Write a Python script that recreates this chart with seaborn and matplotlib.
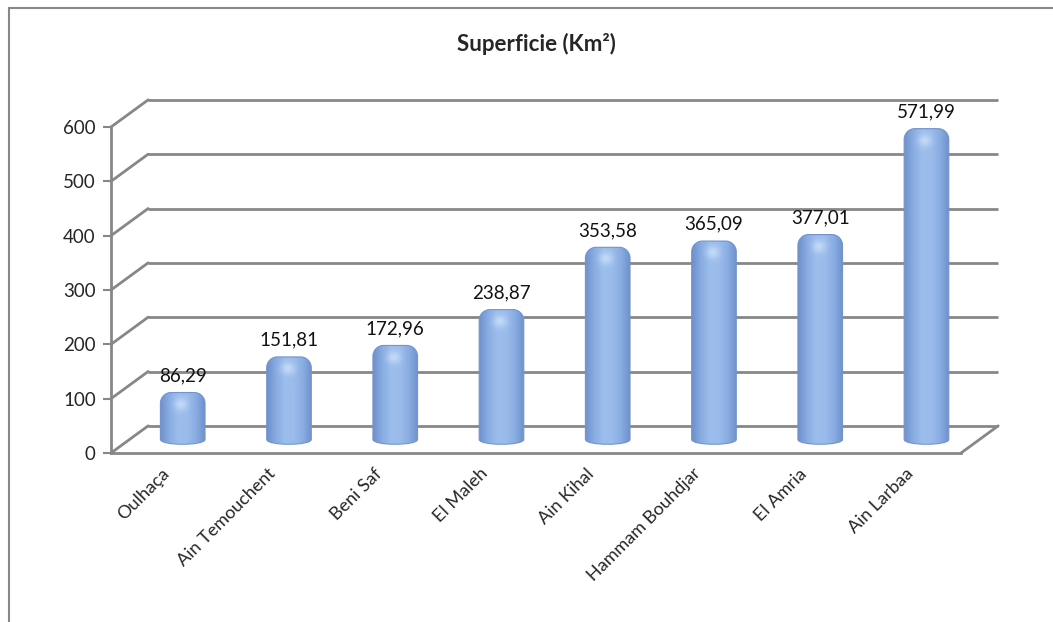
import numpy as np
import seaborn as sns
import matplotlib.pyplot as plt
from matplotlib.path import Path
from matplotlib.patches import PathPatch
from matplotlib.colors import LinearSegmentedColormap, to_rgb
from matplotlib.lines import Line2D
from matplotlib.transforms import ScaledTranslation

# donnees
regions = ['Oulhaça', 'Ain Temouchent', 'Beni Saf', 'El Maleh', 'Ain Kihal',
           'Hammam Bouhdjar', 'El Amria', 'Ain Larbaa']
superficie = [86.29, 151.81, 172.96, 238.87, 353.58, 365.09, 377.01, 571.99]
yticks = [0, 100, 200, 300, 400, 500, 600]
titre = 'Superficie (Km²)'

sns.set_style('white')
plt.rcParams['font.family'] = ['Lato', 'DejaVu Sans']

gris = '#878787'
DX, DY = 0.35, 50   # profondeur du "3D" en unites de donnees

fig = plt.figure(figsize=(10.53, 6.22), dpi=100)
ax = fig.add_axes([111/1053, (622-453)/622, 850/1053, 326/622])
ax.patch.set_alpha(0)

sns.barplot(x=regions, y=superficie, ax=ax, width=0.42, color='#8db3e2')

nx = len(regions)
# mur du fond + mur de gauche + sol
for v in yticks:
    ax.plot([-0.5 + DX, nx - 0.5 + DX], [v + DY, v + DY], color=gris, lw=2,
            clip_on=False, zorder=0, solid_capstyle='butt')
    ax.plot([-0.5, -0.5 + DX], [v, v + DY], color=gris, lw=2, clip_on=False, zorder=0)
ax.plot([nx - 0.5, nx - 0.5 + DX], [0, DY], color=gris, lw=2, clip_on=False, zorder=0)

# barres cylindriques
cmap = LinearSegmentedColormap.from_list(
    'cyl', ['#6f91cd', '#89ace2', '#9cbeec', '#9bbceb', '#8aade2', '#7092ce'])
rx, ry, eb = 0.1, 20, 9
px_per_y = 326 / 600
for p, v in zip(ax.patches, superficie):
    p.set_visible(False)
    w = p.get_width()
    x0 = p.get_x() + DX / 2
    y0 = DY / 2
    h = p.get_height()
    k = eb * 1.33
    verts = [(x0, y0),
             (x0, y0 - k), (x0 + w, y0 - k), (x0 + w, y0),
             (x0 + w, y0 + h - ry),
             (x0 + w, y0 + h - ry * 0.45), (x0 + w - rx * 0.45, y0 + h), (x0 + w - rx, y0 + h),
             (x0 + rx, y0 + h),
             (x0 + rx * 0.45, y0 + h), (x0, y0 + h - ry * 0.45), (x0, y0 + h - ry),
             (x0, y0)]
    codes = [Path.MOVETO,
             Path.CURVE4, Path.CURVE4, Path.CURVE4,
             Path.LINETO,
             Path.CURVE4, Path.CURVE4, Path.CURVE4,
             Path.LINETO,
             Path.CURVE4, Path.CURVE4, Path.CURVE4,
             Path.CLOSEPOLY]
    patch = PathPatch(Path(verts, codes), facecolor='none', edgecolor='#7394cc',
                      lw=0.8, zorder=3)
    ax.add_patch(patch)

    # degrade horizontal + reflet en haut
    ny = int((h + eb) * px_per_y) + 2
    gx = np.linspace(0, 1, 48)
    base = cmap(gx)[:, :3]
    img = np.tile(base, (ny, 1, 1))
    yy = np.arange(ny)[:, None]
    xx = np.arange(48)[None, :]
    hl = np.exp(-(((xx - 22) / 7.0) ** 2 + ((yy - 12) / 6.0) ** 2))
    img = img + (np.array(to_rgb('#d4e6fb')) - img) * hl[:, :, None] * 0.7
    im = ax.imshow(img, extent=[x0, x0 + w, y0 - eb, y0 + h], aspect='auto',
                   zorder=2, interpolation='bilinear')
    im.set_clip_path(patch)

    lab = f'{v:.2f}'.replace('.', ',')
    ax.annotate(lab, xy=(x0 + w / 2, y0 + h), xytext=(0, 6), textcoords='offset points',
                ha='center', va='bottom', fontsize=13.5, color='#111111')

ax.set_xlim(-0.5, nx - 0.5)
ax.set_ylim(0, 600)
ax.set_yticks(yticks)
ax.set_yticklabels([str(t) for t in yticks], fontsize=13.5)
ax.set_xticks(range(nx))
ax.set_xticklabels(regions, rotation=45, ha='right', rotation_mode='anchor', fontsize=13)
ax.set_xticks(np.arange(-0.5, nx, 1), minor=True)
ax.tick_params(axis='x', which='major', length=0, pad=9)
ax.tick_params(axis='x', which='minor', length=6, width=1.5, color=gris, direction='out')
ax.tick_params(axis='y', length=6, width=1.5, color=gris, direction='out', left=True, pad=5)
decal = ScaledTranslation(-3/100, 0, fig.dpi_scale_trans)
for t in ax.get_xticklabels():
    t.set_transform(t.get_transform() + decal)
ax.set_xlabel('')
ax.set_ylabel('')
for s in ['top', 'right']:
    ax.spines[s].set_visible(False)
for s in ['left', 'bottom']:
    ax.spines[s].set_color(gris)
    ax.spines[s].set_linewidth(2)

fig.text(536/1053, 1 - 44/622, titre, ha='center', va='center', fontsize=16,
         fontweight='bold')

# cadre du graphique
fig.add_artist(Line2D([9/1053, 1], [1 - 8/622, 1 - 8/622], color=gris, lw=1.5))
fig.add_artist(Line2D([9/1053, 9/1053], [0, 1 - 8/622], color=gris, lw=1.5))

fig.savefig('out.png', dpi=100)
